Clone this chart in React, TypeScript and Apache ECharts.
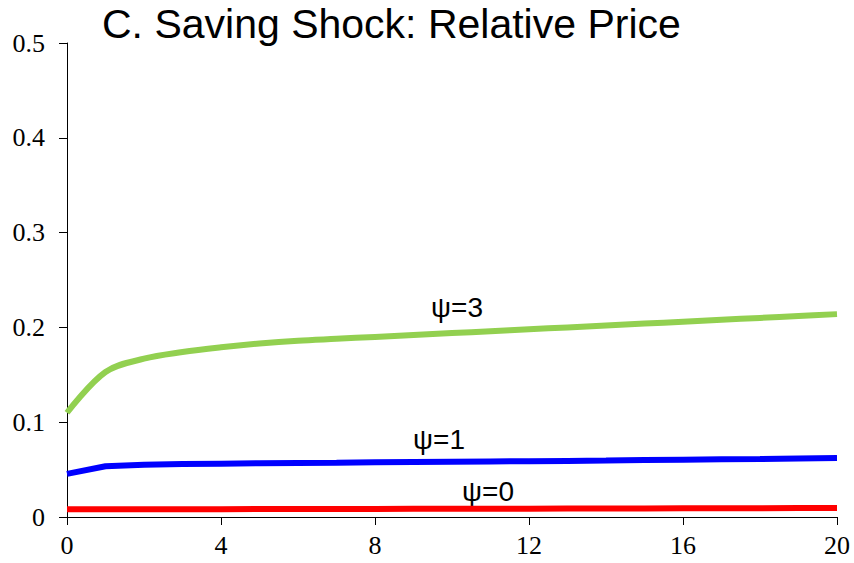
import React, { useEffect, useRef } from "react";
import * as echarts from "echarts";

const periods = [0,1,2,3,4,5,6,7,8,9,10,11,12,13,14,15,16,17,18,19,20];
const psi3 = [0.110,0.153,0.167,0.174,0.179,0.183,0.186,0.188,0.190,0.192,0.194,0.196,0.198,0.200,0.202,0.204,0.206,0.208,0.210,0.212,0.214];
const psi1 = [0.0455,0.0535,0.0550,0.0558,0.0563,0.0567,0.0570,0.0573,0.0577,0.0580,0.0583,0.0586,0.0589,0.0592,0.0595,0.0600,0.0604,0.0608,0.0612,0.0617,0.0622];
const psi0 = [0.0081,0.0082,0.0082,0.0083,0.0083,0.0084,0.0084,0.0085,0.0085,0.0086,0.0087,0.0087,0.0088,0.0089,0.0090,0.0090,0.0091,0.0092,0.0093,0.0094,0.0095];
const title = "C. Saving Shock: Relative Price";

export default function App() {
  const ref = useRef<HTMLDivElement>(null);
  useEffect(() => {
    const chart = echarts.init(ref.current!, null, { renderer: "svg" });
    const pts = (arr: number[]) => periods.map((p, i) => [p, arr[i]]);
    const axisStyle = { lineStyle: { color: "#000", width: 1 } };
    const labelFont = { fontFamily: "Liberation Serif", fontSize: 26, color: "#000" };
    chart.setOption({
      animation: false,
      backgroundColor: "#fff",
      grid: { left: 67, right: 17, top: 43, bottom: 46 },
      xAxis: {
        type: "value", min: 0, max: 20, interval: 4,
        axisLine: axisStyle,
        axisTick: { show: true, inside: false, length: 8, lineStyle: { color: "#000" } },
        axisLabel: { ...labelFont, margin: 15 },
        splitLine: { show: false },
      },
      yAxis: {
        type: "value", min: 0, max: 0.5, interval: 0.1,
        axisLine: { show: true, ...axisStyle },
        axisTick: { show: true, inside: false, length: 8, lineStyle: { color: "#000" } },
        axisLabel: { ...labelFont, margin: 22, formatter: (v: number) => String(Math.round(v * 10) / 10) },
        splitLine: { show: false },
      },
      series: [
        { type: "line", data: pts(psi3), symbol: "none", smooth: 0.35, lineStyle: { color: "#92D050", width: 6 } },
        { type: "line", data: pts(psi1), symbol: "none", lineStyle: { color: "#0000FF", width: 6 } },
        { type: "line", data: pts(psi0), symbol: "none", lineStyle: { color: "#FF0000", width: 6 } },
      ],
      graphic: [
        { type: "text", left: 102, top: 3, style: { text: title, fontFamily: "Liberation Sans", fontSize: 41, fill: "#000" } },
        { type: "text", x: 457, y: 307, style: { text: "ψ=3", fontFamily: "Liberation Sans", fontSize: 28, fill: "#000", align: "center", verticalAlign: "middle" } },
        { type: "text", x: 439, y: 439, style: { text: "ψ=1", fontFamily: "Liberation Sans", fontSize: 28, fill: "#000", align: "center", verticalAlign: "middle" } },
        { type: "text", x: 488, y: 491, style: { text: "ψ=0", fontFamily: "Liberation Sans", fontSize: 28, fill: "#000", align: "center", verticalAlign: "middle" } },
      ],
    });
    return () => chart.dispose();
  }, []);
  return <div ref={ref} style={{ width: 854, height: 563, position: "absolute", left: 0, top: 0 }} />;
}
